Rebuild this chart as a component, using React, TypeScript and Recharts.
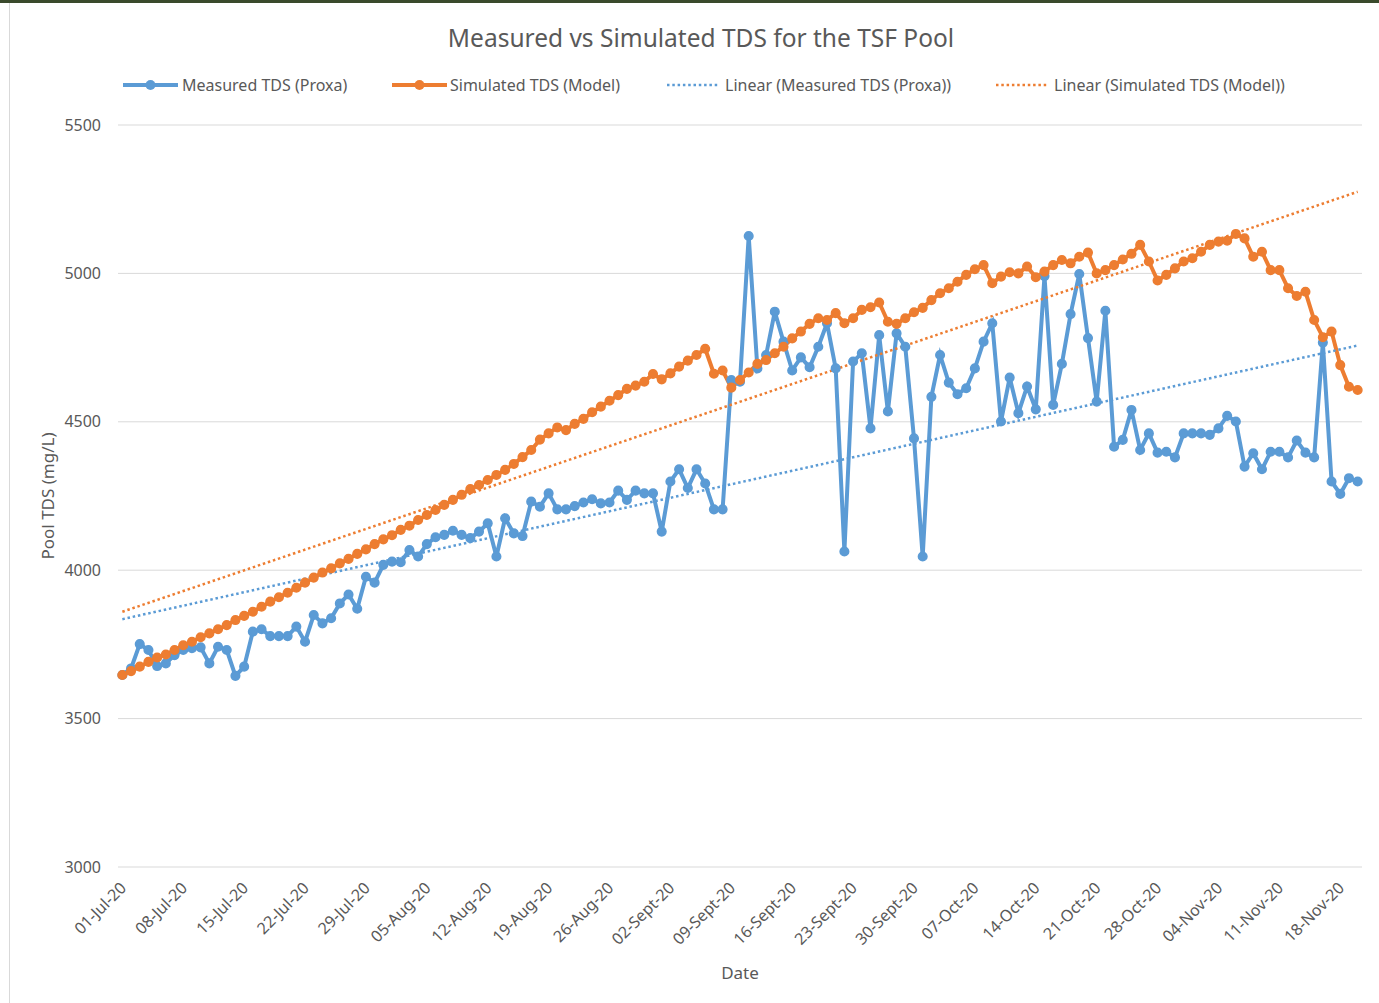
import React from 'react';
import { LineChart, Line, XAxis, YAxis, CartesianGrid } from 'recharts';

// daily readings, 01-Jul-20 .. 20-Nov-20 (index = days since 01-Jul)
const measured = [
  3647, 3669, 3751, 3731, 3677, 3686, 3714, 3731, 3737, 3740, 3686, 3742, 3731, 3644, 3675, 3793, 3801, 3778, 3778, 3778, 3810, 3759, 3849, 3821,
  3838, 3888, 3918, 3870, 3978, 3958, 4018, 4029, 4027, 4068, 4046, 4088, 4111, 4119, 4133, 4119, 4108, 4130, 4158, 4046, 4175, 4124, 4115, 4231, 4214,
  4259, 4205, 4205, 4216, 4228, 4239, 4225, 4228, 4268, 4237, 4268, 4259, 4259, 4130, 4299, 4340, 4277, 4340, 4292, 4205, 4205,
  4641, 4635, 5126, 4680, 4725, 4871, 4770, 4673, 4717, 4684, 4753, 4832, 4680, 4063, 4703, 4731, 4478, 4792, 4535, 4798, 4753, 4444, 4046, 4584,
  4725, 4632, 4593, 4613, 4680, 4770, 4832, 4501, 4649, 4529, 4619, 4542, 4991, 4557, 4695, 4863, 4998, 4782, 4568, 4874, 4416, 4439, 4540,
  4405, 4461, 4396, 4399, 4380, 4461, 4461, 4461, 4456, 4478, 4520, 4501, 4349, 4394, 4340, 4399, 4399, 4380, 4437, 4396, 4380, 4767, 4299, 4257, 4310, 4299,
];

const simulated = [
  3647, 3660, 3675, 3691, 3706, 3716, 3731, 3747, 3759, 3774, 3787, 3801, 3815, 3832, 3846, 3860, 3877, 3894, 3909, 3924, 3941, 3958, 3975, 3992,
  4006, 4023, 4038, 4055, 4070, 4088, 4104, 4118, 4136, 4150, 4169, 4186, 4203, 4220, 4237, 4254, 4273, 4287, 4304, 4321, 4338, 4358, 4381, 4405,
  4440, 4461, 4481, 4472, 4493, 4510, 4532, 4551, 4571, 4590, 4611, 4622, 4635, 4661, 4643, 4663, 4686, 4706, 4725, 4746, 4662, 4673, 4615, 4641, 4666,
  4695, 4708, 4731, 4753, 4781, 4804, 4830, 4849, 4843, 4866, 4832, 4849, 4877, 4886, 4902, 4837, 4830, 4849, 4869, 4884, 4910,
  4933, 4950, 4972, 4995, 5014, 5028, 4967, 4989, 5004, 5000, 5023, 4987, 5006, 5028, 5045, 5034, 5056, 5070, 5000,
  5011, 5028, 5047, 5066, 5096, 5040, 4976, 4995, 5017, 5040, 5051, 5073, 5096, 5107, 5110, 5133, 5118, 5056, 5073, 5011, 5011, 4950, 4924, 4938,
  4843, 4785, 4804, 4691, 4618, 4607,
];

// linear trendline end values (first and last day)
const measuredTrend = [3835, 4757];
const simulatedTrend = [3860, 5275];

const tickDays = [0, 7, 14, 21, 28, 35, 42, 49, 56, 63, 70, 77, 84, 91, 98, 105, 112, 119, 126, 133, 140];
const tickLabels = [
  '01-Jul-20', '08-Jul-20', '15-Jul-20', '22-Jul-20', '29-Jul-20', '05-Aug-20', '12-Aug-20', '19-Aug-20',
  '26-Aug-20', '02-Sept-20', '09-Sept-20', '16-Sept-20', '23-Sept-20', '30-Sept-20', '07-Oct-20',
  '14-Oct-20', '21-Oct-20', '28-Oct-20', '04-Nov-20', '11-Nov-20', '18-Nov-20',
];
const yTicks = [3000, 3500, 4000, 4500, 5000, 5500];

const BLUE = '#5b9bd5';
const ORANGE = '#ed7d31';
const TEXT = '#595959';
const FONT = '"Noto Sans", sans-serif';

const data = measured.map((m, i) => ({ day: i, measured: m, simulated: simulated[i] }));
const lastDay = measured.length - 1;
const measuredTrendData = [
  { day: 0, value: measuredTrend[0] },
  { day: lastDay, value: measuredTrend[1] },
];
const simulatedTrendData = [
  { day: 0, value: simulatedTrend[0] },
  { day: lastDay, value: simulatedTrend[1] },
];

const DateTick = (props: any) => {
  const { x, y, payload } = props;
  const label = tickLabels[tickDays.indexOf(payload.value)] ?? '';
  return (
    <g transform={`translate(${x + 1},${y + 10})`}>
      <text x={0} y={0} dy="0.35em" textAnchor="end" transform="rotate(-45)" fill={TEXT} fontSize={16} fontFamily={FONT}>
        {label}
      </text>
    </g>
  );
};

const legendItems = [
  { label: 'Measured TDS (Proxa)', color: BLUE, dotted: false, left: 123, textLeft: 182 },
  { label: 'Simulated TDS (Model)', color: ORANGE, dotted: false, left: 392, textLeft: 450 },
  { label: 'Linear (Measured TDS (Proxa))', color: BLUE, dotted: true, left: 667, textLeft: 725 },
  { label: 'Linear (Simulated TDS (Model))', color: ORANGE, dotted: true, left: 996, textLeft: 1054 },
];

const App: React.FC = () => {
  return (
    <div style={{ position: 'absolute', left: 0, top: 0, width: 1379, height: 1003, background: '#fff', fontFamily: FONT, overflow: 'hidden' }}>
      <div style={{ position: 'absolute', left: 0, top: 0, width: 1379, height: 3, background: '#3a4a2c' }} />
      <div style={{ position: 'absolute', left: 9, top: 3, width: 1, height: 1000, background: '#d9d9d9' }} />

      <div style={{ position: 'absolute', left: 201, top: 23, width: 1000, textAlign: 'center', fontSize: 24.5, color: TEXT, lineHeight: '30px' }}>
        Measured vs Simulated TDS for the TSF Pool
      </div>

      {legendItems.map((item) => (
        <div key={item.label}>
          <svg style={{ position: 'absolute', left: item.left, top: 79 }} width={56} height={12}>
            {item.dotted ? (
              <line x1={0} y1={6} x2={52} y2={6} stroke={item.color} strokeWidth={2.5} strokeDasharray="2.5 2.8" />
            ) : (
              <>
                <line x1={0} y1={6} x2={55} y2={6} stroke={item.color} strokeWidth={4} />
                <circle cx={27.5} cy={6} r={5} fill={item.color} />
              </>
            )}
          </svg>
          <div style={{ position: 'absolute', left: item.textLeft, top: 74, fontSize: 16, color: TEXT, lineHeight: '22px', whiteSpace: 'nowrap' }}>
            {item.label}
          </div>
        </div>
      ))}

      <LineChart width={1379} height={1003} data={data} margin={{ top: 125, right: 17, bottom: 20, left: 58 }}>
        <CartesianGrid vertical={false} stroke="#d9d9d9" />
        <XAxis
          type="number"
          dataKey="day"
          domain={[-0.5, lastDay + 0.5]}
          ticks={tickDays}
          interval={0}
          tick={<DateTick />}
          tickLine={false}
          axisLine={false}
          tickSize={8}
          tickMargin={0}
          height={116}
        />
        <YAxis
          domain={[3000, 5500]}
          ticks={yTicks}
          width={60}
          tickLine={false}
          axisLine={false}
          tickSize={6}
          tickMargin={11}
          tick={{ fill: TEXT, fontSize: 16, fontFamily: FONT }}
        />
        <Line
          dataKey="measured"
          stroke={BLUE}
          strokeWidth={4}
          dot={{ r: 4.3, fill: BLUE, stroke: BLUE, strokeWidth: 1.5 }}
          isAnimationActive={false}
        />
        <Line
          dataKey="simulated"
          stroke={ORANGE}
          strokeWidth={4}
          dot={{ r: 4.3, fill: ORANGE, stroke: ORANGE, strokeWidth: 1.5 }}
          isAnimationActive={false}
        />
        <Line
          data={measuredTrendData}
          dataKey="value"
          stroke={BLUE}
          strokeWidth={2.5}
          strokeDasharray="2.5 2.8"
          dot={false}
          isAnimationActive={false}
        />
        <Line
          data={simulatedTrendData}
          dataKey="value"
          stroke={ORANGE}
          strokeWidth={2.5}
          strokeDasharray="2.5 2.8"
          dot={false}
          isAnimationActive={false}
        />
      </LineChart>

      <div style={{ position: 'absolute', left: 47, top: 496, transform: 'translate(-50%, -50%) rotate(-90deg)', fontSize: 17, color: TEXT, whiteSpace: 'nowrap' }}>
        Pool TDS (mg/L)
      </div>
      <div style={{ position: 'absolute', left: 740, top: 972, transform: 'translate(-50%, -50%)', fontSize: 17, color: TEXT, whiteSpace: 'nowrap' }}>
        Date
      </div>
    </div>
  );
};

export default App;
